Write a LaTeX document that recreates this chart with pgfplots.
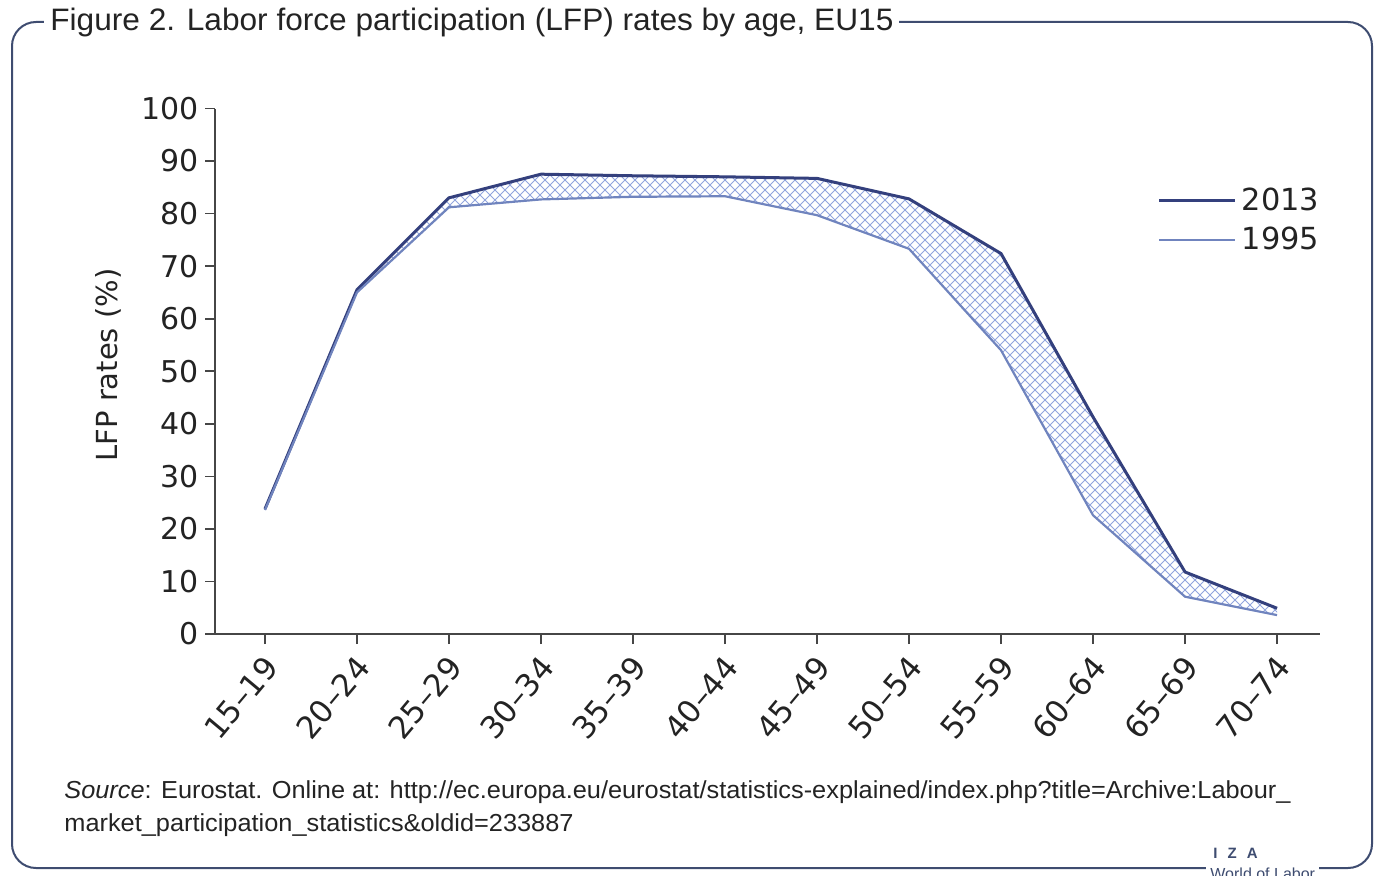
\documentclass[border=0pt]{standalone}
\usepackage{fontspec}
\usepackage{pgfplots}
\pgfplotsset{compat=1.18}
\usepgfplotslibrary{fillbetween}
\usetikzlibrary{patterns}
\setmainfont{Liberation Sans}
\newfontfamily\dejavu{DejaVu Sans}
\newfontfamily\titlefont{Liberation Sans}[FakeStretch=1.02]
\newfontfamily\srcfont{Liberation Sans}[FakeStretch=1.03]
\definecolor{cA}{RGB}{52,64,125}
\definecolor{cB}{RGB}{112,132,190}
\definecolor{hatch}{RGB}{145,165,222}
\definecolor{frame}{RGB}{62,76,112}
\definecolor{txt}{RGB}{35,35,35}
\definecolor{axisgray}{RGB}{70,70,70}

\pgfdeclarepatternformonly{mycross}{\pgfqpoint{-1pt}{-1pt}}{\pgfqpoint{6pt}{6pt}}{\pgfqpoint{5pt}{5pt}}{%
  \pgfsetlinewidth{0.4pt}%
  \pgfpathmoveto{\pgfqpoint{-0.1pt}{-0.1pt}}\pgfpathlineto{\pgfqpoint{5.1pt}{5.1pt}}%
  \pgfpathmoveto{\pgfqpoint{-0.1pt}{5.1pt}}\pgfpathlineto{\pgfqpoint{5.1pt}{-0.1pt}}%
  \pgfusepath{stroke}}

\pgfplotstableread{
idx y2013 y1995
0 23.8 23.6
1 65.5 65.0
2 83.0 81.2
3 87.5 82.7
4 87.2 83.2
5 87.0 83.3
6 86.7 79.7
7 82.8 73.3
8 72.4 54.0
9 41.3 22.6
10 11.8 7.1
11 4.9 3.6
}\lfp

\begin{document}
\begin{tikzpicture}
\path (0,0) rectangle (687pt,437.5pt);
% frame
\draw[frame, line width=1pt, rounded corners=12pt] (6pt,3.5pt) rectangle (686pt,426.5pt);
% title
\node[anchor=west, fill=white, inner xsep=3pt, inner ysep=1pt, text=txt, font=\titlefont\fontsize{15.5}{18}\selectfont] at (22pt,426.5pt) {Figure 2. Labor force participation (LFP) rates by age, EU15};
% source
\node[anchor=base west, inner sep=0pt, text=txt, font=\srcfont\fontsize{12.3}{14}\selectfont] at (32pt,38.5pt) {\textit{Source}: Eurostat. Online at: http://ec.europa.eu/eurostat/statistics-explained/index.php?title=Archive:Labour\_};
\node[anchor=base west, inner sep=0pt, text=txt, font=\srcfont\fontsize{12.3}{14}\selectfont] at (32pt,22pt) {market\_participation\_statistics\&oldid=233887};
% logo
\node[anchor=west, inner sep=0pt, text=frame, font=\bfseries\fontsize{7.5}{8}\selectfont] at (606.5pt,11pt) {I\hspace{5pt}Z\hspace{5pt}A};
\node[overlay, anchor=west, fill=white, inner xsep=2pt, inner ysep=1pt, text=frame, font=\fontsize{8}{9}\selectfont] at (603pt,0.5pt) {World of Labor};

\begin{axis}[
  at={(107.5pt,120.5pt)}, anchor=south west,
  scale only axis, width=552.5pt, height=262.75pt,
  xmin=-0.543, xmax=11.467, ymin=0, ymax=100,
  axis lines=left,
  axis line style={-, draw=axisgray, line width=1pt},
  tick style={draw=axisgray, line width=0.8pt},
  tick align=outside, major tick length=5pt,
  xtick={0,...,11},
  xticklabels={15–19,20–24,25–29,30–34,35–39,40–44,45–49,50–54,55–59,60–64,65–69,70–74},
  ytick={0,10,...,100},
  /pgf/number format/assume math mode=true,
  ticklabel style={font=\dejavu\fontsize{15}{17}\selectfont, text=txt},
  xticklabel style={rotate=50, anchor=north east, inner sep=2pt, xshift=-2.5pt, font=\dejavu\fontsize{15.5}{17}\selectfont},
  yticklabel style={inner sep=3pt},
  ylabel={LFP rates (\%)},
  ylabel style={at={(axis description cs:-0.0968,0.512)}, anchor=center, font=\dejavu\fontsize{14.5}{17}\selectfont, text=txt},
  legend style={at={(rel axis cs:0.853,0.858)}, anchor=north west, draw=none, fill=none,
    font=\dejavu\fontsize{15.2}{17}\selectfont, text=txt, row sep=3pt,
    inner sep=0pt, nodes={inner xsep=2.5pt}},
  legend cell align=left,
  legend image code/.code={\draw[#1] (0pt,0pt) -- (38pt,0pt);},
]
\addplot[name path=A, draw=none, forget plot] table[x=idx, y=y2013] {\lfp};
\addplot[name path=B, draw=none, forget plot] table[x=idx, y=y1995] {\lfp};
\addplot[pattern=mycross, pattern color=hatch, draw=none, forget plot] fill between[of=A and B];
\addplot[cA, line width=1.5pt] table[x=idx, y=y2013] {\lfp};
\addlegendentry{2013}
\addplot[cB, line width=1.1pt] table[x=idx, y=y1995] {\lfp};
\addlegendentry{1995}
\end{axis}
\end{tikzpicture}
\end{document}
